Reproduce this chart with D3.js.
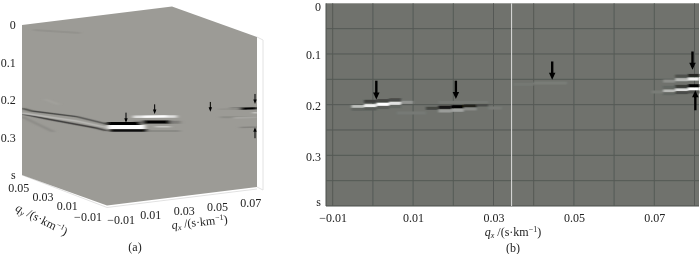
<!DOCTYPE html>
<html>
<head>
<meta charset="utf-8">
<script src="https://cdn.jsdelivr.net/npm/d3@7"></script>
<style>
  html, body { margin: 0; padding: 0; background: #fff; }
  svg { display: block; }
  text { font-family: "Liberation Serif", serif; font-size: 12px; fill: #222; }
</style>
</head>
<body>
<svg id="chart" width="700" height="254"></svg>
<script>
// panel (b) tick values
var qxLabelTicks = [-0.01, 0.01, 0.03, 0.05, 0.07];
var qxGridTicks = [-0.01, 0, 0.01, 0.02, 0.03, 0.04, 0.05, 0.06, 0.07, 0.08];
var timeLabelTicks = [0, 0.1, 0.2, 0.3, 0.4];
var timeLabels = ['0', '0.1', '0.2', '0.3', 's'];
var timeGridTicks = [0.05, 0.1, 0.15, 0.2, 0.25, 0.3, 0.35];
var qyLabelTicks = [-0.01, 0.01, 0.03, 0.05];
var whiteLineQx = 0.0345;

// panel (b) events: qx start, qx end, time, amplitude
var eventOne = [
  [-0.0053, -0.0022, 0.2039, 0.55], [-0.0022, 0.0009, 0.2020, 0.9], [0.0009, 0.0040, 0.1993, 1],
  [0.0040, 0.0070, 0.1974, 0.8], [0.0070, 0.0100, 0.1954, 0.25],
  [-0.0022, 0.0009, 0.1934, -0.45], [0.0009, 0.0040, 0.1921, -0.4], [0.0040, 0.0070, 0.1902, -0.35],
  [-0.0053, -0.0022, 0.2092, -0.12], [-0.0022, 0.0009, 0.2085, -0.2], [0.0009, 0.0040, 0.2059, -0.18],
  [0.0040, 0.0070, 0.2040, -0.1]
];
var eventTwo = [
  [0.0132, 0.0163, 0.2072, -0.4], [0.0163, 0.0196, 0.2052, -0.85], [0.0196, 0.0226, 0.2039, -1],
  [0.0226, 0.0258, 0.2026, -0.75], [0.0258, 0.0287, 0.2007, -0.35],
  [0.0163, 0.0196, 0.2125, 0.3], [0.0196, 0.0226, 0.2111, 0.35], [0.0226, 0.0258, 0.2085, 0.18],
  [0.0163, 0.0287, 0.1954, 0.05], [0.0060, 0.0132, 0.2164, 0.05], [0.0287, 0.0320, 0.2066, 0.06]
];
var eventThree = [
  [0.0350, 0.0400, 0.1600, 0.04], [0.0400, 0.0483, 0.1574, 0.07]
];
var eventFour = [
  [0.0784, 0.0812, 0.1423, -0.7], [0.0752, 0.0784, 0.1436, -0.3],
  [0.0784, 0.0812, 0.1495, 0.9], [0.0752, 0.0784, 0.1508, 0.5], [0.0722, 0.0752, 0.1535, 0.2],
  [0.0784, 0.0812, 0.1626, -1], [0.0752, 0.0784, 0.1639, -0.5], [0.0722, 0.0752, 0.1659, -0.1],
  [0.0784, 0.0812, 0.1692, 1], [0.0752, 0.0784, 0.1711, 0.75], [0.0722, 0.0752, 0.1731, 0.5],
  [0.0693, 0.0722, 0.1750, 0.07],
  [0.0752, 0.0784, 0.1763, -0.35], [0.0784, 0.0812, 0.1750, -0.3], [0.0722, 0.0752, 0.1785, -0.1]
];
var panelBCells = eventOne.concat(eventTwo, eventThree, eventFour);

// panel (b) arrows: qx, time at tail, time at tip
var panelBArrows = [
  [0.00085, 0.1528, 0.1900], [0.02064, 0.1528, 0.1889], [0.0446, 0.1148, 0.1508],
  [0.0795, 0.0951, 0.1311], [0.0802, 0.2111, 0.1718]
];

// panel (a) right face streaks: qx, time, qx, time, amplitude, thickness
var rightFaceStreaks = [
  [0.0060, 0.187, 0.0340, 0.202, -0.2, 3],
  [0.0640, 0.182, 0.0800, 0.190, -0.3, 2],
  [0.0140, 0.2143, 0.0338, 0.2253, -0.15, 1.5],
  [-0.0100, 0.181, 0.0098, 0.192, -1, 3],
  [-0.0094, 0.191, 0.0128, 0.203, 1, 4],
  [-0.0082, 0.201, 0.0140, 0.213, -0.9, 2.5],
  [0.0056, 0.1717, 0.0320, 0.186, 0.7, 2.5],
  [0.0116, 0.175, 0.0260, 0.182, 1, 2],
  [0.0116, 0.189, 0.0278, 0.198, -1, 3],
  [0.0190, 0.206, 0.0280, 0.211, 0.4, 1.5],
  [0.0580, 0.202, 0.0800, 0.214, -0.1, 2],
  [0.0570, 0.180, 0.0700, 0.186, -0.06, 1.5],
  [0.0698, 0.1856, 0.0800, 0.190, -1, 2],
  [0.0780, 0.201, 0.0800, 0.202, 0.7, 1.5],
  [0.0660, 0.208, 0.0800, 0.214, 0.1, 2],
  [0.0698, 0.236, 0.0800, 0.240, -0.15, 1.5]
];

// panel (a) left face bands: list of [qy, time], amplitude, thickness
var bandOne = [[0.060, 0.222], [0.052, 0.220], [0.015, 0.192], [-0.010, 0.183]];
var bandTwo = [[0.060, 0.235], [0.015, 0.2035], [-0.010, 0.192]];
var bandThree = [[0.060, 0.237], [0.037, 0.225], [-0.001, 0.204], [-0.010, 0.201]];
var bandFour = [[0.060, 0.2445], [0.034, 0.255]];
var bandFive = [[0.041, 0.176], [0.030, 0.177]];
var leftFaceBands = [
  { points: bandFour, amp: -0.12, size: 2 },
  { points: bandFive, amp: 0.08, size: 1.5 },
  { points: bandOne, amp: -0.55, size: 1.4 },
  { points: bandThree, amp: -0.65, size: 1.5 },
  { points: bandTwo, amp: 0.3, size: 1.6 }
];

// panel (a) faint streak on the top face: qx, qy
var topFaceStreak = [[-0.011, 0.049], [0.0059, 0.034]];

// panel (a) arrows: qx, time at tail, time at tip
var panelAArrows = [
  [0.0014, 0.1587, 0.1853], [0.0186, 0.1459, 0.1717], [0.0520, 0.1579, 0.1837],
  [0.0788, 0.1512, 0.1779], [0.0788, 0.2693, 0.2400]
];

var svg = d3.select('#chart');
var defs = svg.append('defs');
var root = svg.append('g').attr('filter', 'url(#soft)');

function addBlur(id, deviation) {
  defs.append('filter')
    .attr('id', id)
    .attr('filterUnits', 'userSpaceOnUse')
    .attr('x', 0).attr('y', 0).attr('width', 700).attr('height', 254)
    .append('feGaussianBlur')
    .attr('stdDeviation', deviation);
}

addBlur('soft', 0.4);
addBlur('smear', '2.2 0.55');
addBlur('cellSmear', '0.8 0.35');

function formatTick(value) {
  return (value < 0 ? '\u2212' : '') + Math.abs(value).toFixed(2);
}

function drawArrow(parent, x0, y0, x1, y1, width, headWidth, headLength) {
  var dir = y1 > y0 ? 1 : -1;
  parent.append('line')
    .attr('x1', x0).attr('y1', y0)
    .attr('x2', x1).attr('y2', y1 - dir * headLength / 2)
    .attr('stroke', '#000')
    .attr('stroke-width', width);
  parent.append('path')
    .attr('d', d3.line()([
      [x1, y1],
      [x1 - headWidth / 2, y1 - dir * headLength],
      [x1 + headWidth / 2, y1 - dir * headLength]
    ]) + 'Z')
    .attr('fill', '#000');
}

function addAxisTitle(parent, letter, x, y, angle) {
  var title = parent.append('text')
    .attr('text-anchor', 'middle')
    .attr('transform', 'translate(' + x + ',' + y + ') rotate(' + angle + ')');
  title.append('tspan').attr('font-style', 'italic').text('q');
  title.append('tspan').attr('font-style', 'italic').attr('font-size', 8).attr('dy', 2).text(letter);
  title.append('tspan').attr('dy', -2).text(' /(s\u00b7km');
  title.append('tspan').attr('font-size', 8).attr('dy', -4).text('\u22121');
  title.append('tspan').attr('dy', 4).text(')');
}

function drawPanelA() {
  var panel = root.append('g');
  var background = '#9c9b96';

  // oblique projection of the data cube
  var qxToRight = d3.scaleLinear().domain([-0.01, 0.08]).range([0, 150]);
  var qxToUp = d3.scaleLinear().domain([-0.01, 0.08]).range([0, -18.5]);
  var qyToLeft = d3.scaleLinear().domain([-0.01, 0.06]).range([0, -85]);
  var qyToUp = d3.scaleLinear().domain([-0.01, 0.06]).range([0, -30.5]);
  var timeToDown = d3.scaleLinear().domain([0, 0.4]).range([0, 150]);
  var corner = [107, 55.5];

  function project(qx, qy, time) {
    return [
      corner[0] + qxToRight(qx) + qyToLeft(qy),
      corner[1] + qxToUp(qx) + qyToUp(qy) + timeToDown(time)
    ];
  }

  var ampColor = d3.scaleLinear()
    .domain([-1, 0, 1])
    .range(['#000', background, '#fff']);

  var hull = [
    project(-0.01, 0.06, 0), project(0.08, 0.06, 0), project(0.08, -0.01, 0),
    project(0.08, -0.01, 0.4), project(-0.01, -0.01, 0.4), project(-0.01, 0.06, 0.4)
  ];

  defs.append('clipPath').attr('id', 'cube')
    .append('path').attr('d', d3.line()(hull) + 'Z');

  // light box lines behind the cube
  var boxLine = d3.line();
  var topRight = project(0.08, -0.01, 0);
  var bottomRight = project(0.08, -0.01, 0.4);
  var bottomFront = project(-0.01, -0.01, 0.4);

  panel.append('path')
    .attr('d', boxLine([
      topRight,
      [topRight[0] + 6, topRight[1] + 3],
      [bottomRight[0] + 6, bottomRight[1] + 3],
      bottomRight
    ]))
    .attr('fill', 'none')
    .attr('stroke', '#e2e2e2');

  panel.append('path')
    .attr('d', boxLine([
      project(-0.01, 0.06, 0.4),
      [bottomFront[0], bottomFront[1] + 2],
      [bottomRight[0], bottomRight[1] + 2]
    ]))
    .attr('fill', 'none')
    .attr('stroke', '#e2e2e2');

  panel.append('path')
    .attr('d', d3.line()(hull) + 'Z')
    .attr('fill', background);

  var marks = panel.append('g').attr('clip-path', 'url(#cube)')
    .append('g').attr('filter', 'url(#smear)');

  var bandLine = d3.line()
    .x(function(d) { return project(-0.01, d[0], d[1])[0]; })
    .y(function(d) { return project(-0.01, d[0], d[1])[1]; });

  marks.selectAll('.left-band')
    .data(leftFaceBands)
    .enter()
    .append('path')
    .classed('left-band', true)
    .attr('d', function(d) { return bandLine(d.points); })
    .attr('fill', 'none')
    .attr('stroke', function(d) { return ampColor(d.amp); })
    .attr('stroke-width', function(d) { return d.size; });

  marks.selectAll('.right-streak')
    .data(rightFaceStreaks)
    .enter()
    .append('line')
    .classed('right-streak', true)
    .attr('x1', function(d) { return project(d[0], -0.01, d[1])[0]; })
    .attr('y1', function(d) { return project(d[0], -0.01, d[1])[1]; })
    .attr('x2', function(d) { return project(d[2], -0.01, d[3])[0]; })
    .attr('y2', function(d) { return project(d[2], -0.01, d[3])[1]; })
    .attr('stroke', function(d) { return ampColor(d[4]); })
    .attr('stroke-width', function(d) { return d[5]; });

  marks.append('path')
    .attr('d', d3.line()(topFaceStreak.map(function(d) { return project(d[0], d[1], 0); })))
    .attr('fill', 'none')
    .attr('stroke', ampColor(-0.06))
    .attr('stroke-width', 2);

  panelAArrows.forEach(function(d) {
    var tail = project(d[0], -0.01, d[1]);
    var tip = project(d[0], -0.01, d[2]);
    drawArrow(panel, tail[0], tail[1], tip[0], tip[1], 1, 3.4, 4.5);
  });

  // time labels down the far left edge
  panel.selectAll('.time-label')
    .data(timeLabelTicks)
    .enter()
    .append('text')
    .classed('time-label', true)
    .attr('text-anchor', 'end')
    .attr('x', 15.7)
    .attr('y', function(d) { return project(-0.01, 0.06, d)[1] + 4; })
    .text(function(d, i) { return timeLabels[i]; });

  panel.selectAll('.qx-label')
    .data(qxLabelTicks)
    .enter()
    .append('text')
    .classed('qx-label', true)
    .attr('text-anchor', 'end')
    .attr('x', function(d, i) { return project(d, -0.01, 0.4)[0] + (i === 0 ? 28 : 21); })
    .attr('y', function(d) { return project(d, -0.01, 0.4)[1] + 18; })
    .text(formatTick);

  panel.selectAll('.qy-label')
    .data(qyLabelTicks)
    .enter()
    .append('text')
    .classed('qy-label', true)
    .attr('text-anchor', 'middle')
    .attr('x', function(d, i) { return project(-0.01, d, 0.4)[0] - (i === 0 ? 19 : 15.5); })
    .attr('y', function(d, i) { return project(-0.01, d, 0.4)[1] + (i === 0 ? 15 : 13); })
    .text(formatTick);

  addAxisTitle(panel, 'x', 200, 226, -6);
  addAxisTitle(panel, 'y', 40, 223, 27);

  panel.append('text')
    .attr('text-anchor', 'middle')
    .attr('x', 135).attr('y', 251)
    .text('(a)');
}

function drawPanelB() {
  var panel = root.append('g');
  var background = '#6f726d';

  var xScale = d3.scaleLinear().domain([-0.01, 0.07]).range([332.7, 654.3]);
  var yScale = d3.scaleLinear().domain([0, 0.4]).range([3.3, 206]);
  var plotLeft = 326;
  var plotRight = 699;
  var cellThickness = 0.006;

  var ampColor = d3.scaleLinear()
    .domain([-1, 0, 1])
    .range(['#050505', background, '#fff']);

  panel.append('rect')
    .attr('x', plotLeft)
    .attr('y', yScale(0))
    .attr('width', plotRight - plotLeft)
    .attr('height', yScale(0.4) - yScale(0))
    .attr('fill', background);

  panel.append('path')
    .attr('d', d3.line()([
      [plotLeft, yScale(0)], [plotLeft, yScale(0.4)], [plotRight, yScale(0.4)]
    ]))
    .attr('fill', 'none')
    .attr('stroke', '#4d514d');

  panel.selectAll('.grid-x')
    .data(qxGridTicks)
    .enter()
    .append('line')
    .classed('grid-x', true)
    .attr('x1', xScale).attr('x2', xScale)
    .attr('y1', yScale(0)).attr('y2', yScale(0.4))
    .attr('stroke', '#555955');

  panel.selectAll('.grid-y')
    .data(timeGridTicks)
    .enter()
    .append('line')
    .classed('grid-y', true)
    .attr('x1', plotLeft).attr('x2', plotRight)
    .attr('y1', yScale).attr('y2', yScale)
    .attr('stroke', '#555955');

  panel.append('g')
    .attr('filter', 'url(#cellSmear)')
    .selectAll('.cell')
    .data(panelBCells)
    .enter()
    .append('rect')
    .classed('cell', true)
    .attr('x', function(d) { return xScale(d[0]); })
    .attr('width', function(d) { return xScale(d[1]) - xScale(d[0]); })
    .attr('y', function(d) { return yScale(d[2] - cellThickness / 2); })
    .attr('height', yScale(cellThickness) - yScale(0))
    .attr('fill', function(d) { return ampColor(d[3]); });

  panel.append('line')
    .attr('x1', xScale(whiteLineQx)).attr('x2', xScale(whiteLineQx))
    .attr('y1', yScale(0)).attr('y2', yScale(0.4))
    .attr('stroke', '#dcdcdc');

  panelBArrows.forEach(function(d) {
    drawArrow(panel, xScale(d[0]), yScale(d[1]), xScale(d[0]), yScale(d[2]), 2.4, 6.5, 7);
  });

  var bottomAxis = d3.axisBottom(xScale)
    .tickValues(qxLabelTicks)
    .tickSize(0)
    .tickPadding(7)
    .tickFormat(formatTick);

  panel.append('g')
    .attr('transform', 'translate(0,' + yScale(0.4) + ')')
    .call(bottomAxis)
    .call(function(g) {
      g.select('.domain').remove();
      g.selectAll('text').attr('font-family', null).attr('font-size', null);
    });

  var leftAxis = d3.axisLeft(yScale)
    .tickValues(timeLabelTicks)
    .tickSize(0)
    .tickPadding(5)
    .tickFormat(function(d, i) { return timeLabels[i]; });

  // first and last labels sit inside the plot height
  var leftLabelNudge = [3, 1, 1, 1, -4];

  panel.append('g')
    .attr('transform', 'translate(' + plotLeft + ',0)')
    .call(leftAxis)
    .call(function(g) {
      g.select('.domain').remove();
      g.selectAll('text')
        .attr('font-family', null)
        .attr('font-size', null)
        .attr('transform', function(d, i) { return 'translate(0,' + leftLabelNudge[i] + ')'; });
    });

  addAxisTitle(panel, 'x', 513, 236, 0);

  panel.append('text')
    .attr('text-anchor', 'middle')
    .attr('x', 513).attr('y', 252)
    .text('(b)');
}

drawPanelA();
drawPanelB();
</script>
</body>
</html>
